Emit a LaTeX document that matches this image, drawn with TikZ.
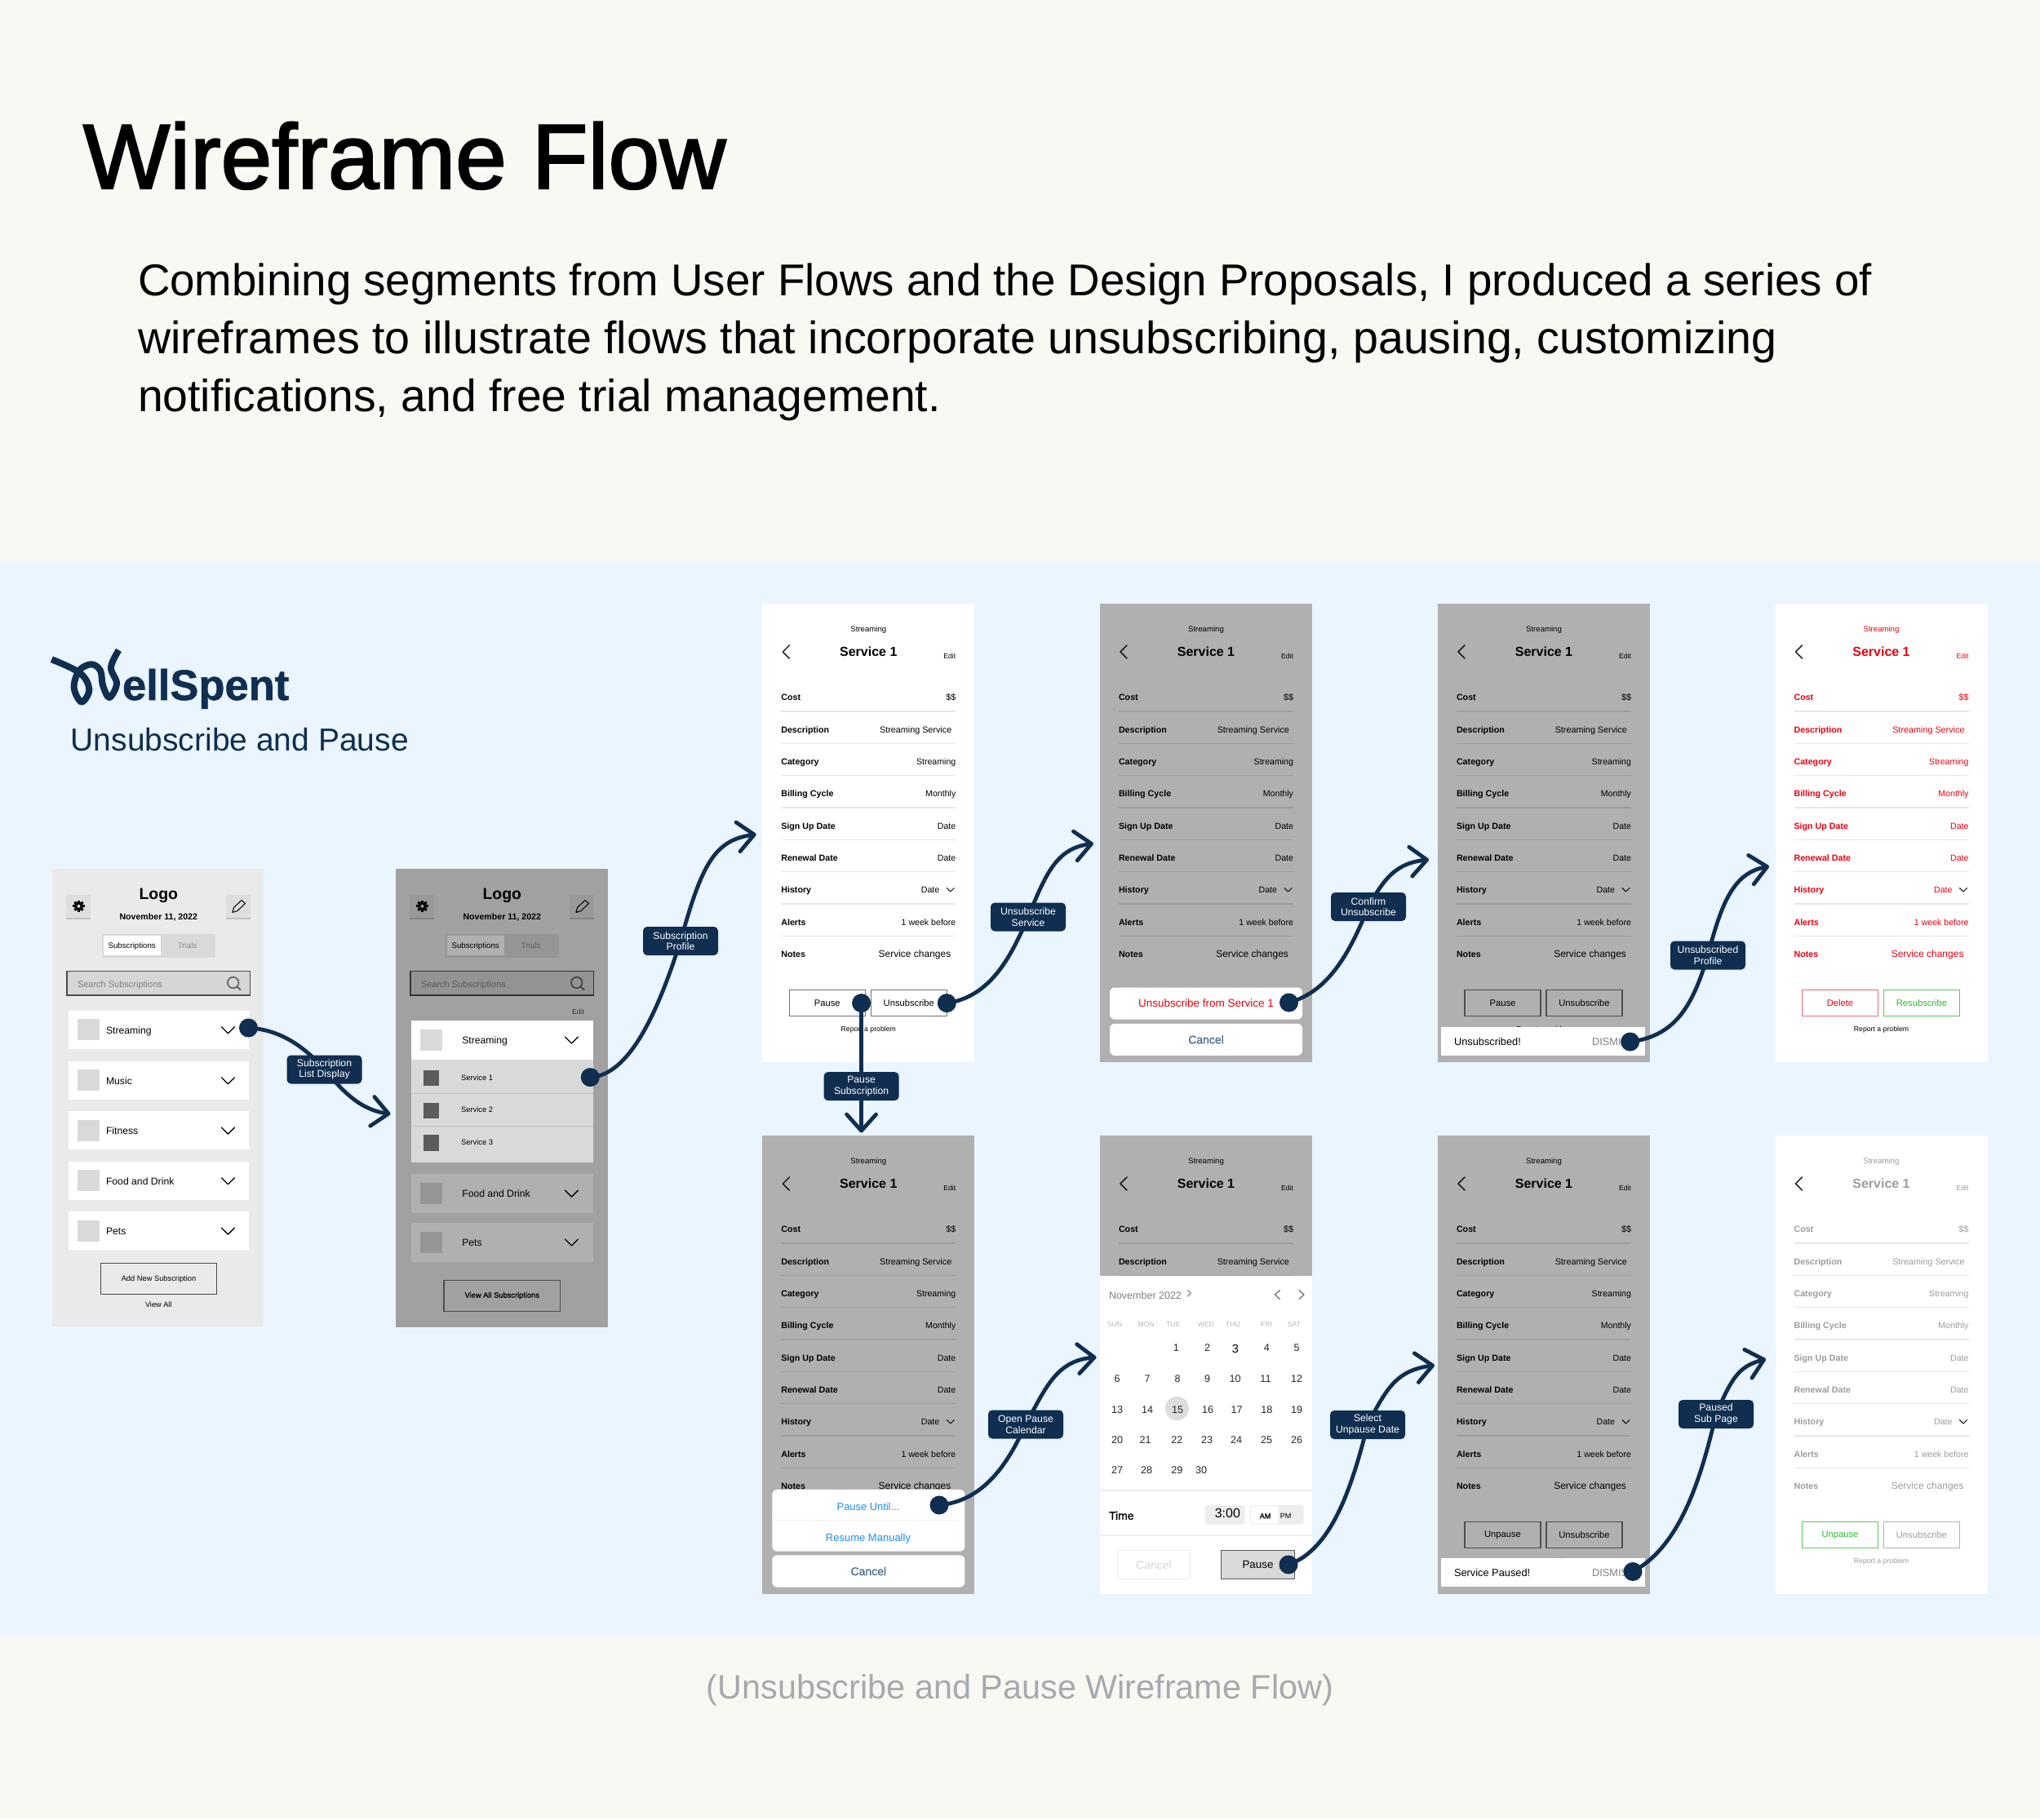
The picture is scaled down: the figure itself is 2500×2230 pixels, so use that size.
\documentclass[tikz,border=0pt]{standalone}
\usepackage{fontspec}
\setmainfont{Liberation Sans}
\newfontfamily\medfont{Liberation Sans}[FakeBold=1]
\newfontfamily\titlefont{Liberation Sans}[FakeBold=2]
\newfontfamily\heavyfont{Liberation Sans}[BoldFeatures={FakeBold=1}]
\usetikzlibrary{arrows.meta}
\pgfdeclarelayer{front}
\pgfsetlayers{main,front}
\definecolor{paper}{HTML}{F9F8F3}
\definecolor{sky}{HTML}{EAF5FF}
\definecolor{wsnavy}{HTML}{0F2E50}
\definecolor{phone}{HTML}{EAEAEA}
\definecolor{tile}{HTML}{D9D9D9}
\definecolor{keycap}{HTML}{DEDEDE}
\definecolor{keyedge}{HTML}{C2C2C2}
\definecolor{rulegray}{HTML}{E6E6E6}
\definecolor{capgray}{HTML}{A6AAAC}
\definecolor{wsred}{HTML}{E8000F}
\definecolor{wsgreen}{HTML}{2EBB2E}
\definecolor{fadegray}{HTML}{9C9C9C}
\definecolor{linkblue}{HTML}{1E8CEB}
\definecolor{cancelblue}{HTML}{4A6A90}
\newcommand\fz[1]{\fontsize{#1}{#1}\selectfont}
\newcommand\svcrows{9}
\tikzset{
 txt/.style={inner sep=0pt,outer sep=0pt},
 cmid/.style={txt,anchor=mid},
 lmid/.style={txt,anchor=mid west},
 rmid/.style={txt,anchor=mid east},
 fs/.style={font=\fz{#1},yshift={-0.2*#1 pt}},
 bs/.style={font=\bfseries\fz{#1},yshift={-0.2*#1 pt}},
 ms/.style={font=\medfont\fz{#1},yshift={-0.2*#1 pt}},
 flowdot/.style={circle,fill=wsnavy,inner sep=0pt,minimum size=23pt},
 pill/.style={fill=wsnavy,text=white,rounded corners=5pt,inner sep=0pt,align=center,
   font=\fontsize{12.2}{13.6}\selectfont,minimum width=92pt,minimum height=35pt},
 flow/.style={draw=wsnavy,line width=4.8pt,line cap=round,
   -{Straight Barb[length=20pt,width=36pt,round]}},
 chev/.style={line width=1.3pt,line cap=round,line join=round},
 btn/.style={minimum width=93pt,minimum height=31.5pt,inner sep=0pt,outer sep=0pt,line width=1.4pt,font=\fz{11.2}},
 sheet/.style={fill=white,rounded corners=6pt,minimum width=236pt,inner sep=0pt,outer sep=0pt},
 dim/.style={fill=black,fill opacity=0.31},
}
% service page: prefix, x, y, text colour
\newcommand\svcpage[4]{%
\begin{scope}[shift={(#2,#3)},name prefix=#1-]
 \fill[white] (0,0) rectangle (260,562);
 \node[cmid,text=#4,fs=9.6] (cat) at (130,30) {Streaming};
 \node[cmid,text=#4,bs=16] (title) at (130,59) {Service 1};
 \node[rmid,text=#4,fs=8.7] (edit) at (237,63) {Edit};
 \draw[chev,black!85,line width=1.5pt] (33,51) -- (25,59) -- (33,67);
 \foreach \ri/\rl/\rv/\rr/\rs in {0/Cost/\$\$/237/10.8,1/Description/Streaming Service/232/10.8,2/Category/Streaming/237/10.6,3/Billing Cycle/Monthly/237/10.6,4/Sign Up Date/Date/237/10.6,5/Renewal Date/Date/237/10.6,6/History/Date/217/10.6,7/Alerts/1 week before/237/10.6,8/Notes/Service changes/231/12}{
  \ifnum\ri<\svcrows\relax
  \node[lmid,text=#4,bs=10.7] (lab\ri) at (23,{114+\ri*39.35}) {\rl};
  \node[rmid,text=#4,fs=\rs] (val\ri) at (\rr,{114+\ri*39.35}) {\rv};
  \draw[rulegray,line width=1.4pt] (23,{132+\ri*39.35}) -- (237,{132+\ri*39.35});
  \fi
 }
 \ifnum\svcrows>6\relax
 \fill[white] (23,{132+8*39.35-2}) rectangle (237,{132+8*39.35+2});
 \draw[chev,black!85,line width=1.1pt] (226,348.5) -- (230.5,353) -- (235,348.5);
 \fi
\end{scope}}
% two buttons: prefix, x, y, border1, text1, textcol1, border2, text2, textcol2
\newcommand\svcbtns[9]{%
\begin{scope}[shift={(#2,#3)},name prefix=#1-]
 \node[btn,draw=#4,text=#6] (btna) at (79.5,489.5) {#5};
 \node[btn,draw=#7,text=#9] (btnb) at (179.5,489.5) {#8};
\end{scope}}
% page report line
\newcommand\svcreport[4]{\node[cmid,text=#4,fs=8.7] (#1-report) at ({#2+130},{#3+520}) {Report a problem};}
% banner: prefix x y text
\newcommand\svcbanner[4]{%
\begin{scope}[shift={(#2,#3)},name prefix=#1-]
 \fill[white] (4,519) rectangle (253.5,553.5);
 \node[lmid,fs=12.8] (msg) at (20,536) {#4};
 \node[lmid,text=black!50,fs=12.8] (dismiss) at (189,536) {DISMISS};
\end{scope}}
% list phone header: prefix, dx
\newcommand\listhead[2]{%
\begin{scope}[shift={(#2,0)},name prefix=#1-]
 \node[cmid,bs=19.4] (logo) at (194.3,1095.6) {Logo};
 \node[cmid,bs=10.6] (date) at (194.3,1122.5) {November 11, 2022};
 \fill[keyedge] (81.3,1098) rectangle (111.2,1127);
 \fill[keycap] (81.3,1096.7) rectangle (111.2,1125);
 \fill[keyedge] (277,1098) rectangle (306.8,1127);
 \fill[keycap] (277,1096.7) rectangle (306.8,1125);
 \begin{scope}[shift={(96.5,1110.8)}]
  \fill[black] (0,0) circle (5.6);
  \foreach \ga in {0,45,...,315}{\draw[black,line width=3pt] (\ga:4) -- (\ga:7.2);}
  \fill[keycap] (0,0) circle (2);
 \end{scope}
 \draw[line width=1pt,line join=round] (285,1118.5) -- (286.5,1112.5) -- (296,1103.5) -- (300.5,1107.5) -- (291,1116.5) -- cycle;
 \fill[tile] (124.5,1145) rectangle (264,1174);
 \fill[white] (127,1147) rectangle (197,1171.4);
 \node[cmid,fs=9.7] (tabsub) at (161.7,1158) {Subscriptions};
 \node[cmid,text=black!45,fs=9.7] (tabtrial) at (229.6,1158) {Trials};
 \draw[fill=black!16,draw=black!70,line width=1.5pt] (81.8,1190.4) rectangle (306.3,1220.2);
 \node[lmid,text=black!50,fs=11] (search) at (95,1205.6) {Search Subscriptions};
 \draw[black!65,line width=1.5pt] (285.7,1204.5) circle (6.8);
 \draw[black!65,line width=1.8pt] (290.5,1209.5) -- (295,1213.5);
\end{scope}}
\begin{document}
\begin{tikzpicture}[x=1pt,y=-1pt]
\useasboundingbox (0,0) rectangle (2500,2230);
\fill[paper] (0,0) rectangle (2500,2230);
\fill[sky] (0,689) rectangle (2500,2006);
% headings
\node[txt,anchor=base west,font=\titlefont\fz{112.5}] (head) at (102,231) {Wireframe Flow};
\node[txt,anchor=base west,font=\fz{54.7}] (p1) at (169,362) {Combining segments from User Flows and the Design Proposals, I produced a series of};
\node[txt,anchor=base west,font=\fz{55.6}] (p2) at (169,433) {wireframes to illustrate flows that incorporate unsubscribing, pausing, customizing};
\node[txt,anchor=base west,font=\fz{55.3}] (p3) at (169,504) {notifications, and free trial management.};
\node[txt,anchor=mid,text=capgray,font=\fz{41.4}] (cap) at (1250,2080) {(Unsubscribe and Pause Wireframe Flow)};
% logo
\draw[wsnavy,line width=8pt,line join=round] plot[smooth,tension=0.6] coordinates {(63.3,808.3) (98,825) (109.3,845) (100,860.5) (90.7,843) (97,822) (112,814.3) (123,822) (126,840) (134,855) (143,838) (136,818) (145.5,797)};
\node[txt,anchor=base west,text=wsnavy,font=\heavyfont\bfseries\fz{52.5}] (brand) at (150,858) {ellSpent};
\node[txt,anchor=base west,text=wsnavy,font=\fz{39}] (subt) at (86.7,920.5) {Unsubscribe and Pause};
% phone A
\fill[phone] (64.3,1064.7) rectangle (323.3,1626);
\listhead{pa}{0}
\foreach \ry/\rt/\rn in {1262.2/Streaming/0,1324.2/Music/1,1385.6/Fitness/2,1447.2/Food and Drink/3,1508.6/Pets/4}{
 \fill[white] (83.6,\ry-23.5) rectangle (305.4,\ry+23.5);
 \fill[tile] (95,\ry-13) rectangle (121.7,\ry+13);
 \node[lmid,fs=12.2] (pa-row\rn) at (130,\ry) {\rt};
 \draw[chev] (271.4,\ry-3.5) -- (279.5,\ry+4.5) -- (287.5,\ry-3.5);
}
\node[draw=black!70,line width=1.2pt,inner sep=0pt,minimum width=142pt,minimum height=38pt,font=\fz{9.3}] (pa-add) at (194.5,1567.6) {Add New Subscription};
\node[cmid,fs=9.2] (pa-all) at (194.3,1598.4) {View All};
% phone B
\fill[phone] (485.4,1064.7) rectangle (745.3,1627);
\listhead{pb}{421}
\foreach \ry/\rt/\rn in {1462.6/Food and Drink/0,1522.5/Pets/1}{
 \fill[white] (504.2,\ry-24) rectangle (726.5,\ry+24);
 \fill[tile] (514.8,\ry-13) rectangle (541.5,\ry+13);
 \node[lmid,fs=12.2] (pb-row\rn) at (566.3,\ry) {\rt};
 \draw[chev] (692.5,\ry-3.5) -- (700.5,\ry+4.5) -- (708.5,\ry-3.5);
}
\node[draw=black!55,line width=1.2pt,inner sep=0pt,minimum width=142.6pt,minimum height=38pt,font=\medfont\fz{9.3}] (pb-all) at (615.3,1588.3) {View All Subscriptions};
\fill[dim] (485.4,1064.7) rectangle (745.3,1627);
\node[rmid,text=black!80,fs=8.7] (pb-edit) at (716,1238.7) {Edit};
\fill[white] (504.2,1251) rectangle (726.5,1299.3);
\fill[tile] (514.8,1262) rectangle (541.5,1288);
\node[lmid,fs=12.2] (pb-stream) at (566.3,1274.6) {Streaming};
\draw[chev] (692.5,1271) -- (700.5,1279) -- (708.5,1271);
\fill[tile] (504.2,1299.3) rectangle (726.5,1424.5);
\draw[black!25,line width=1pt] (504.2,1340.8) -- (726.5,1340.8);
\draw[black!25,line width=1pt] (504.2,1380.7) -- (726.5,1380.7);
\foreach \ry/\rt in {1321.5/1,1361.3/2,1401.2/3}{
 \fill[black!64] (518.5,\ry-9.8) rectangle (538,\ry+9.8);
 \node[lmid,fs=9.4] (pb-svc\rt) at (565,\ry-2) {Service \rt};
}
% top row
\svcpage{f1}{934.3}{740}{black}
\svcbtns{f1}{934.3}{740}{black!55}{Pause}{black}{black!55}{Unsubscribe}{black}
\svcreport{f1}{934.3}{740}{black}
\svcpage{f2}{1348}{740}{black}
\fill[dim] (1348,740) rectangle (1608,1302);
\node[sheet,minimum height=39pt,text=wsred,font=\fz{13.5}] (f2-yes) at (1478,1230) {Unsubscribe from Service 1};
\node[sheet,minimum height=39pt,text=cancelblue,font=\medfont\fz{14}] (f2-no) at (1478,1274.3) {Cancel};
\svcpage{f3}{1762}{740}{black}
\svcbtns{f3}{1762}{740}{black!55}{Pause}{black}{black!55}{Unsubscribe}{black}
\svcreport{f3}{1762}{740}{black}
\fill[dim] (1762,740) rectangle (2021.5,1302);
\svcbanner{f3}{1762}{740}{Unsubscribed!}
\svcpage{f4}{2175.5}{740}{wsred}
\svcbtns{f4}{2175.5}{740}{wsred!60}{Delete}{wsred}{wsgreen!80}{Resubscribe}{wsgreen}
\svcreport{f4}{2175.5}{740}{black}
% bottom row
\svcpage{g1}{934.3}{1392}{black}
\fill[dim] (934.3,1392) rectangle (1194.3,1954);
\node[sheet,minimum height=75.7pt] (g1-group) at (1064.3,1863.8) {};
\draw[black!6,line width=1pt] (946.5,1863) -- (1182,1863);
\node[cmid,text=linkblue,fs=12.9] (g1-until) at (1064,1846.7) {Pause Until...};
\node[cmid,text=linkblue,fs=13] (g1-manual) at (1064,1884.7) {Resume Manually};
\node[sheet,minimum height=39.2pt,text=cancelblue,font=\medfont\fz{14}] (g1-no) at (1064.3,1926) {Cancel};
\renewcommand\svcrows{2}
\svcpage{g2}{1348}{1392}{black}
\renewcommand\svcrows{9}
\fill[dim] (1348,1392) rectangle (1608,1564);
\fill[white] (1348,1564) rectangle (1608,1954);
\node[lmid,text=black!50,fs=12.5] (g2-month) at (1359,1587.8) {November 2022};
\draw[chev,black!50,line width=1pt] (1455.5,1581.5) -- (1459.5,1585.2) -- (1455.5,1589);
\draw[chev,black!55] (1568.5,1581.5) -- (1562.5,1587) -- (1568.5,1592.5);
\draw[chev,black!55] (1592,1581.5) -- (1598,1587) -- (1592,1592.5);
\foreach \wx/\wt in {1366/SUN,1404.6/MON,1438/TUE,1478/WED,1510.7/THU,1552/FRI,1586/SAT}{
 \node[cmid,text=black!28,fs=8.7] (g2-\wt) at (\wx,1622.5) {\wt};
}
\fill[tile!90] (1442.4,1726.5) circle (14.6);
\foreach \dx/\dy/\dt in {1441.4/1651.8/1,1479.7/1651.8/2,1552.4/1651.8/4,1589/1651.8/5,
 1369/1689/6,1406/1689/7,1443/1689/8,1479.7/1689/9,1513.6/1689/10,1551/1689/11,1589/1689/12,
 1369/1727/13,1406/1727/14,1443/1727/15,1480/1727/16,1515.6/1727/17,1552.4/1727/18,1589/1727/19,
 1369/1764/20,1403.6/1764/21,1442.4/1764/22,1479/1764/23,1515/1764/24,1552/1764/25,1589/1764/26,
 1369/1801/27,1405/1801/28,1442.4/1801/29,1472/1801/30}{
 \node[cmid,text=black!85,fs=12.6] (g2-d\dt) at (\dx,\dy) {\dt};
}
\node[cmid,fs=14.5] (g2-d3) at (1514,1652.5) {3};
\draw[black!7,line width=1.4pt] (1348,1827) -- (1608,1827);
\draw[black!7,line width=1.4pt] (1348,1882) -- (1608,1882);
\node[lmid,ms=14] (g2-time) at (1359,1857.4) {Time};
\fill[black!7,rounded corners=3pt] (1476.8,1845) rectangle (1525.7,1868.5);
\node[cmid,fs=16] (g2-clock) at (1504.4,1855) {3:00};
\fill[black!7,rounded corners=3pt] (1532,1845) rectangle (1597.5,1868.5);
\fill[white,rounded corners=3pt] (1533,1846) rectangle (1566.5,1867.5);
\node[cmid,ms=9] (g2-am) at (1550.5,1857) {AM};
\node[cmid,fs=9] (g2-pm) at (1575.7,1857) {PM};
\node[draw=black!8,line width=1.2pt,minimum width=88.7pt,minimum height=34.8pt,inner sep=0pt,text=black!16,font=\fz{14}] (g2-no) at (1414,1918) {Cancel};
\node[draw=black!65,fill=tile,line width=1.4pt,minimum width=89.6pt,minimum height=34.8pt,inner sep=0pt,font=\fz{13.4}] (g2-pause) at (1541.5,1918) {Pause};
\svcpage{g3}{1762}{1392}{black}
\svcbtns{g3}{1762}{1392}{black!55}{Unpause}{black}{black!55}{Unsubscribe}{black}
\svcreport{g3}{1762}{1392}{black}
\fill[dim] (1762,1392) rectangle (2021.5,1954);
\svcbanner{g3}{1762}{1391}{Service Paused!}
\svcpage{g4}{2175.5}{1392}{fadegray}
\svcbtns{g4}{2175.5}{1392}{wsgreen!80}{Unpause}{wsgreen}{black!30}{Unsubscribe}{fadegray}
\svcreport{g4}{2175.5}{1392}{fadegray}
% flow dots and labels
\begin{pgfonlayer}{front}
 \node[flowdot] (d1) at (304.5,1260) {};
 \node[flowdot] (d2) at (723.3,1320.6) {};
 \node[flowdot] (d3) at (1160.3,1229.6) {};
 \node[flowdot] (d4) at (1055.6,1229.6) {};
 \node[flowdot] (d5) at (1579.5,1229) {};
 \node[flowdot] (d6) at (1997.7,1277) {};
 \node[flowdot] (d7) at (1151,1845) {};
 \node[flowdot] (d8) at (1579,1918) {};
 \node[flowdot] (d9) at (2001,1926.5) {};
 \node[pill] (l1) at (397.5,1311) {Subscription\\List Display};
 \node[pill] (l2) at (834,1153.5) {Subscription\\Profile};
 \node[pill] (l3) at (1260,1124) {Unsubscribe\\Service};
 \node[pill] (l4) at (1055.6,1331.6) {Pause\\Subscription};
 \node[pill] (l5) at (1677,1111.5) {Confirm\\Unsubscribe};
 \node[pill] (l6) at (2093,1171) {Unsubscribed\\Profile};
 \node[pill] (l7) at (1257,1746) {Open Pause\\Calendar};
 \node[pill] (l8) at (1676,1746.5) {Select\\Unpause Date};
 \node[pill] (l9) at (2103,1733.5) {Paused\\Sub Page};
\end{pgfonlayer}
\coordinate (t1) at (478.5,1365.5);
\coordinate (t2) at (926.7,1022.7);
\coordinate (t3) at (1340,1034);
\coordinate (t4) at (1055.6,1388.5);
\coordinate (t5) at (1751,1053.7);
\coordinate (t6) at (2168,1062);
\coordinate (t7) at (1343.5,1663.7);
\coordinate (t8) at (1758,1673.5);
\coordinate (t9) at (2164,1666);
\draw[flow] (d1.center) .. controls (345,1262) and (375,1285) .. (l1.center) .. controls (420,1337) and (440,1360) .. (t1);
\draw[flow] (d2.center) .. controls (775,1318) and (810,1228) .. (l2.center) .. controls (860,1060) and (875,1030) .. (t2);
\draw[flow] (d3.center) .. controls (1215,1222) and (1240,1170) .. (l3.center) .. controls (1282,1070) and (1295,1040) .. (t3);
\draw[flow] (d4.center) -- (l4.center) -- (t4);
\draw[flow] (d5.center) .. controls (1630,1215) and (1655,1165) .. (l5.center) .. controls (1697,1075) and (1712,1058) .. (t5);
\draw[flow] (d6.center) .. controls (2055,1270) and (2075,1230) .. (l6.center) .. controls (2110,1105) and (2125,1070) .. (t6);
\draw[flow] (d7.center) .. controls (1205,1840) and (1235,1795) .. (l7.center) .. controls (1282,1700) and (1295,1668) .. (t7);
\draw[flow] (d8.center) .. controls (1630,1900) and (1655,1830) .. (l8.center) .. controls (1700,1700) and (1712,1680) .. (t8);
\draw[flow] (d9.center) .. controls (2060,1895) and (2085,1810) .. (l9.center) .. controls (2122,1690) and (2130,1675) .. (t9);
\end{tikzpicture}
\end{document}
